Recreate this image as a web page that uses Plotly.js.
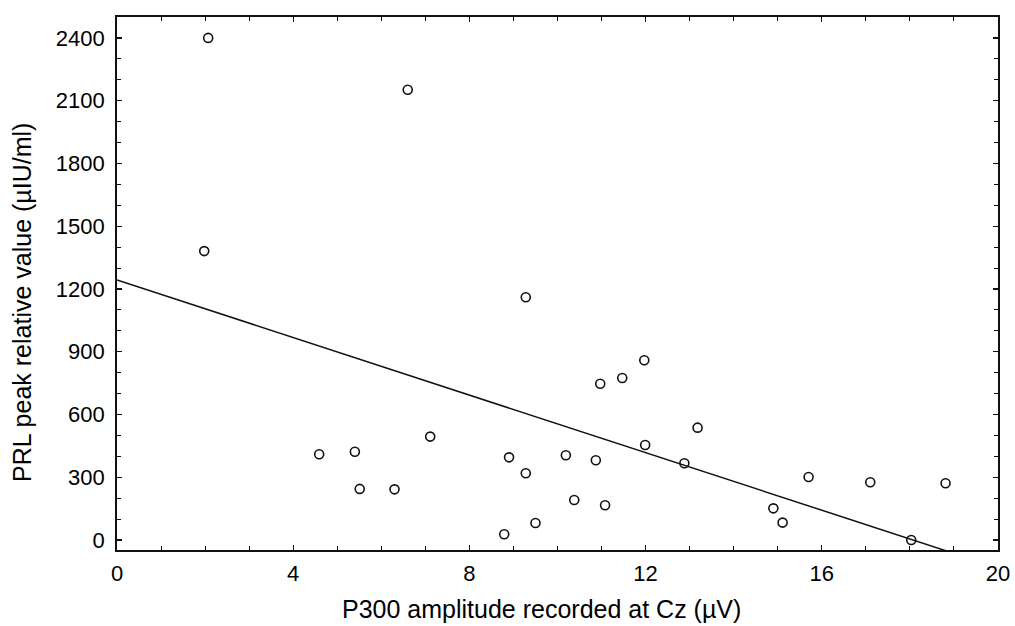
<!DOCTYPE html>
<html>
<head>
<meta charset="utf-8">
<script src="https://cdn.plot.ly/plotly-3.0.1.min.js"></script>
<style>
html,body{margin:0;padding:0;background:#fff;}
#chart{width:1015px;height:626px;}
</style>
</head>
<body>
<div id="chart"></div>
<script>
// P300 amplitude at Cz (µV)
const p300 = [2.07, 1.98, 6.60, 4.59, 5.40, 5.51, 6.30, 7.11, 8.90, 9.28, 8.79, 9.50,
              10.19, 10.38, 10.87, 11.08, 11.99, 13.18, 12.88, 15.70, 17.10, 18.81,
              14.90, 15.11, 18.03, 9.28, 10.97, 11.47, 11.97];
// PRL peak relative value (µIU/ml)
const prl = [2400, 1381, 2152, 410, 422, 244, 242, 494, 395, 319, 27, 81,
             405, 191, 381, 166, 454, 537, 367, 301, 276, 271,
             151, 83, 0, 1160, 747, 774, 859];
// Regression line
const fitIntercept = 1243;
const fitSlope = -68.8;
const fitX = [0, 20];
const fitY = fitX.map(x => fitIntercept + fitSlope * x);

const xTicks = [0, 4, 8, 12, 16, 20];
const yTicks = [0, 300, 600, 900, 1200, 1500, 1800, 2100, 2400];
const xTitle = 'P300 amplitude recorded at Cz (µV)';
const yTitle = 'PRL peak relative value (µIU/ml)';

const font = {family: '"Liberation Sans", Arial, Helvetica, sans-serif', color: '#000'};

const traces = [
  {x: fitX, y: fitY, mode: 'lines', type: 'scatter',
   line: {color: '#111', width: 1.5}, hoverinfo: 'skip', showlegend: false},
  {x: p300, y: prl, mode: 'markers', type: 'scatter',
   marker: {symbol: 'circle-open', size: 9, color: '#111', line: {width: 1.6, color: '#111'}},
   showlegend: false, cliponaxis: false}
];

const layout = {
  width: 1015, height: 626,
  margin: {l: 117, r: 17, t: 17, b: 76},
  paper_bgcolor: '#fff', plot_bgcolor: '#fff',
  font: Object.assign({size: 22}, font),
  showlegend: false,
  xaxis: {
    range: [0, 20], tickmode: 'array', tickvals: xTicks, ticktext: xTicks.map(String),
    ticks: 'inside', ticklen: 5, tickwidth: 1.2, tickcolor: '#111',
    minor: {dtick: 1, ticks: 'inside', ticklen: 4, tickwidth: 1, tickcolor: '#111', showgrid: false},
    showline: true, linecolor: '#111', linewidth: 1.8, mirror: 'allticks',
    showgrid: false, zeroline: false, ticklabelstandoff: 3,
    tickfont: Object.assign({size: 22}, font)
  },
  yaxis: {
    range: [-48, 2500], tickmode: 'array', tickvals: yTicks, ticktext: yTicks.map(String),
    ticks: 'inside', ticklen: 5, tickwidth: 1.2, tickcolor: '#111',
    minor: {dtick: 100, tick0: 0, ticks: 'inside', ticklen: 4, tickwidth: 1, tickcolor: '#111', showgrid: false},
    showline: true, linecolor: '#111', linewidth: 1.8, mirror: 'allticks',
    showgrid: false, zeroline: false, ticklabelstandoff: 6,
    tickfont: Object.assign({size: 22}, font)
  },
  annotations: [
    {text: xTitle, xref: 'paper', yref: 'paper', x: 0.4824, y: -0.1107,
     xanchor: 'center', yanchor: 'middle', showarrow: false, font: Object.assign({size: 25}, font)},
    {text: yTitle, xref: 'paper', yref: 'paper', x: -0.1078, y: 0.4634, textangle: -90,
     xanchor: 'center', yanchor: 'middle', showarrow: false, font: Object.assign({size: 25}, font)}
  ]
};

Plotly.newPlot('chart', traces, layout, {displayModeBar: false, staticPlot: true});
</script>
</body>
</html>
